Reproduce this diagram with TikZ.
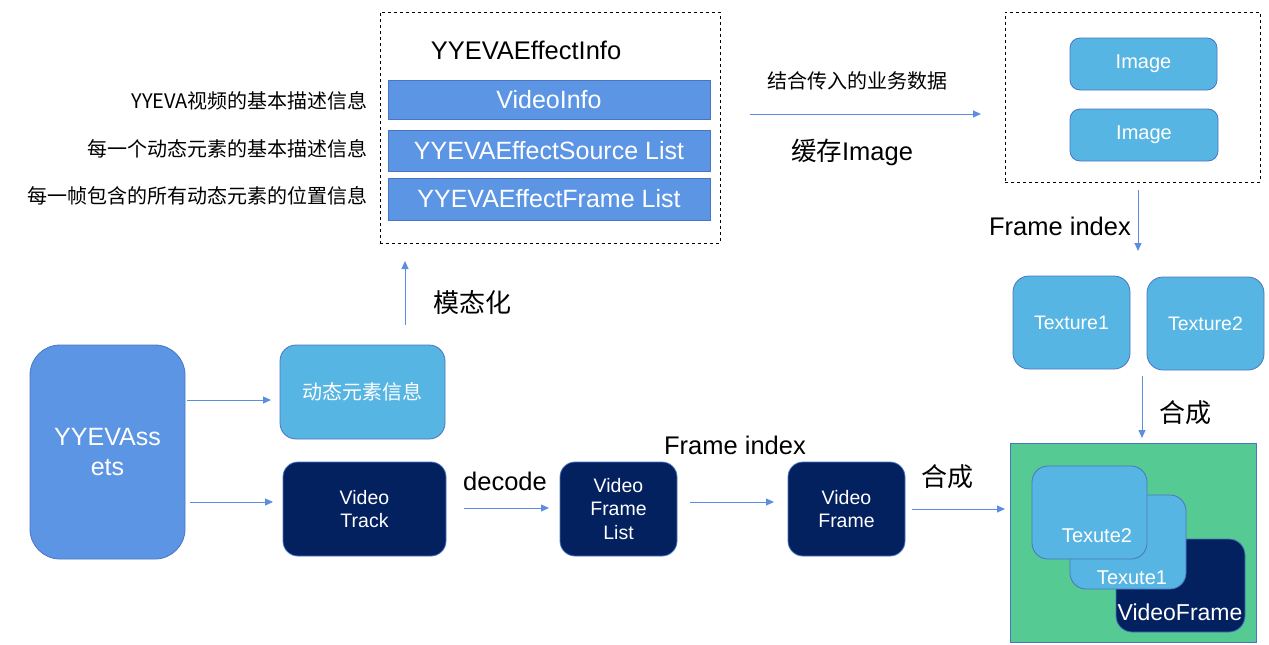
\documentclass[tikz,border=0pt]{standalone}
\usepackage{fontspec}
\setmainfont{Liberation Sans}
\newfontfamily\cjk{Noto Sans CJK SC}
\usetikzlibrary{arrows.meta}
\definecolor{midblue}{HTML}{5D95E5}
\definecolor{lightblue}{HTML}{57B5E3}
\definecolor{navyblue}{HTML}{03205F}
\definecolor{greenbg}{HTML}{55CA93}
\definecolor{edgeblue}{HTML}{4A75C2}
\definecolor{arrowblue}{HTML}{5B8EE0}
\begin{document}
\begin{tikzpicture}[x=1pt,y=-1pt,
  bigtxt/.style={font=\fontsize{25.5}{30}\selectfont, text=black, inner sep=0pt},
  bigcjk/.style={font=\cjk\fontsize{26}{30}\selectfont, text=black, inner sep=0pt},
  smalltxt/.style={font=\cjk\fontsize{20}{23}\selectfont, text=black, inner sep=0pt},
  frame/.style={draw=black, dashed, line width=0.8pt, inner sep=0pt},
  bar/.style={draw=edgeblue, fill=midblue, line width=0.8pt, text=white, inner sep=0pt, font=\fontsize{25}{29}\selectfont},
  lbox/.style={draw=edgeblue, fill=lightblue, line width=0.8pt, text=white, inner sep=0pt, font=\fontsize{19.5}{23}\selectfont, align=center},
  nbox/.style={draw=edgeblue, fill=navyblue, line width=0.8pt, text=white, inner sep=0pt, font=\fontsize{19.5}{23.5}\selectfont, align=center, rounded corners=15pt, minimum width=117pt, minimum height=94pt},
  arr/.style={draw=arrowblue, line width=1pt, -{Triangle[length=8pt,width=7pt]}},
]
\useasboundingbox (0,0) rectangle (1269,645);

% top middle frame
\node[frame, minimum width=340pt, minimum height=231pt] (info) at (550,127.5) {};
\node[bigtxt] (infotitle) at (526,50) {YYEVAEffectInfo};
\node[bar, minimum width=322pt, minimum height=39pt] (vinfo) at (549,99.5) {VideoInfo};
\node[bar, minimum width=322pt, minimum height=41pt] (vsrc) at (549,151) {YYEVAEffectSource List};
\node[bar, minimum width=322pt, minimum height=42pt] (vfrm) at (549,199) {YYEVAEffectFrame List};
\node[smalltxt, anchor=east] (l1) at (368,101) {YYEVA视频的基本描述信息};
\node[smalltxt, anchor=east] (l2) at (368,149) {每一个动态元素的基本描述信息};
\node[smalltxt, anchor=east] (l3) at (368,196) {每一帧包含的所有动态元素的位置信息};

% top right frame
\node[frame, minimum width=255pt, minimum height=170pt] (imgs) at (1132.5,97) {};
\node[lbox, rounded corners=10pt, minimum width=147pt, minimum height=52pt, font=\fontsize{20}{23}\selectfont] (img1) at (1143.5,64) {\raisebox{-2pt}{Image}};
\node[lbox, rounded corners=10pt, minimum width=148pt, minimum height=52pt, font=\fontsize{20}{23}\selectfont] (img2) at (1144,135) {\raisebox{-2pt}{Image}};

\coordinate (c1s) at (750,114);
\coordinate (c1e) at (981,114);
\draw[arr] (c1s) -- (c1e);
\node[smalltxt] (t1) at (857,81) {结合传入的业务数据};
\node[bigtxt] (t2) at (852,152) {{\cjk 缓存}Image};

% frame index down
\coordinate (c2s) at (1138,190);
\coordinate (c2e) at (1138,251);
\draw[arr] (c2s) -- (c2e);
\node[bigtxt] (t3) at (1060,226) {Frame index};

% textures
\node[lbox, rounded corners=16pt, minimum width=117pt, minimum height=93pt] (tex1) at (1071.5,322.5) {Texture1};
\node[lbox, rounded corners=16pt, minimum width=117pt, minimum height=93pt] (tex2) at (1205.5,323.5) {Texture2};

\coordinate (c3s) at (1142,376);
\coordinate (c3e) at (1142,438);
\draw[arr] (c3s) -- (c3e);
\node[bigcjk] (t4) at (1185,413) {合成};

% green composite
\node[draw=edgeblue, fill=greenbg, line width=1pt, minimum width=246pt, minimum height=199pt, inner sep=0pt] (comp) at (1133,542.5) {};
\node[draw=edgeblue, fill=navyblue, line width=0.8pt, rounded corners=16pt, minimum width=129pt, minimum height=93pt, inner sep=0pt] (cvf) at (1180.5,585.5) {};
\node[draw=edgeblue, fill=lightblue, line width=0.8pt, rounded corners=16pt, minimum width=116pt, minimum height=94pt, inner sep=0pt] (ct1) at (1128,542) {};
\node[draw=edgeblue, fill=lightblue, line width=0.8pt, rounded corners=16pt, minimum width=115pt, minimum height=93pt, inner sep=0pt] (ct2) at (1089.5,512.5) {};
\node[text=white, font=\fontsize{20}{23}\selectfont, inner sep=0pt] (ct2t) at (1097,536) {Texute2};
\node[text=white, font=\fontsize{20}{23}\selectfont, inner sep=0pt] (ct1t) at (1132,578) {Texute1};
\node[text=white, font=\fontsize{23}{27}\selectfont, inner sep=0pt] (cvft) at (1180,612) {VideoFrame};

% left part
\node[draw=edgeblue, fill=midblue, line width=0.8pt, rounded corners=30pt, minimum width=155pt, minimum height=214pt, inner sep=0pt, text=white, font=\fontsize{25}{30}\selectfont, align=center] (assets) at (107.5,452) {YYEVAss\\ets};
\node[lbox, rounded corners=16pt, minimum width=165pt, minimum height=94pt, font=\cjk\fontsize{20}{23}\selectfont] (dyn) at (362.5,392) {动态元素信息};
\node[nbox, minimum width=163pt] (vtrack) at (364.5,509) {Video\\Track};
\node[nbox] (vfl) at (618.5,509) {Video\\Frame\\List};
\node[nbox] (vf) at (846.5,509) {Video\\Frame};

\coordinate (a1s) at (187,400);
\coordinate (a1e) at (271,400);
\draw[arr] (a1s) -- (a1e);
\coordinate (a2s) at (190,502);
\coordinate (a2e) at (273,502);
\draw[arr] (a2s) -- (a2e);

\coordinate (a3s) at (405,325);
\coordinate (a3e) at (405,261);
\draw[arr] (a3s) -- (a3e);
\node[bigcjk] (t5) at (472,303) {模态化};

\coordinate (a4s) at (464,508);
\coordinate (a4e) at (549,508);
\draw[arr] (a4s) -- (a4e);
\node[bigtxt] (t6) at (505,481) {decode};

\coordinate (a5s) at (690,502);
\coordinate (a5e) at (774,502);
\draw[arr] (a5s) -- (a5e);
\node[bigtxt] (t7) at (735,445) {Frame index};

\coordinate (a6s) at (912,509);
\coordinate (a6e) at (1005,509);
\draw[arr] (a6s) -- (a6e);
\node[bigcjk] (t8) at (947,477) {合成};
\end{tikzpicture}
\end{document}
